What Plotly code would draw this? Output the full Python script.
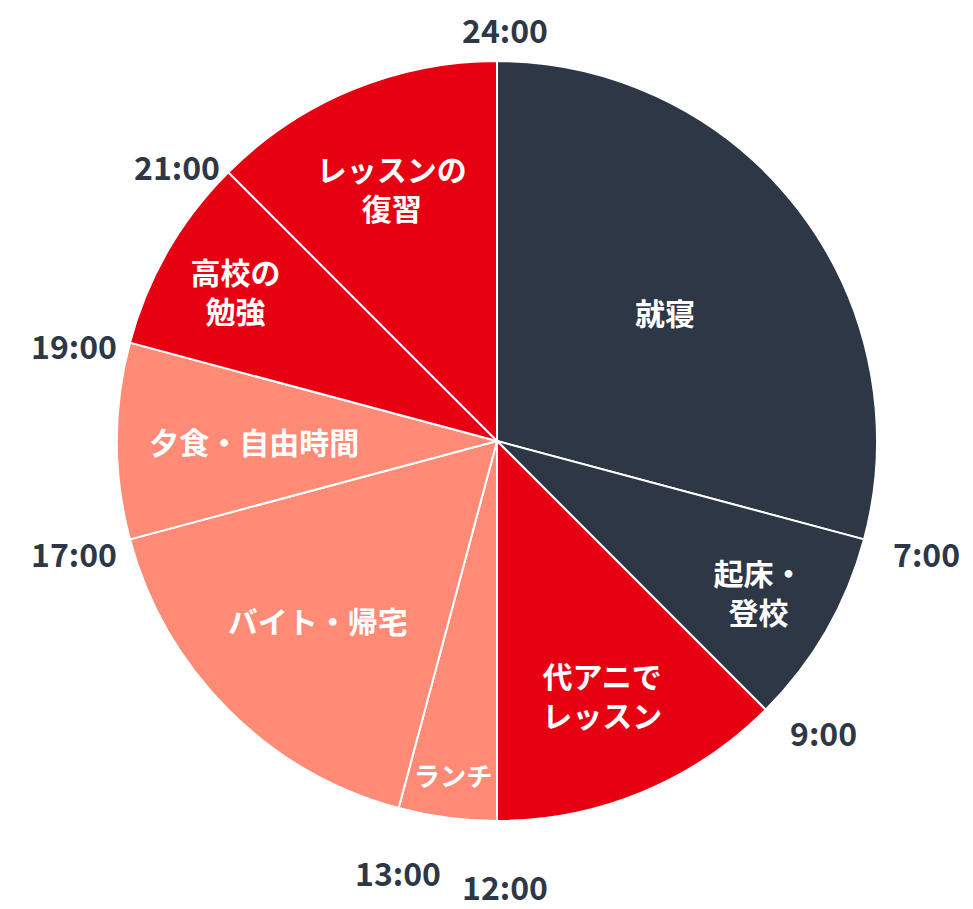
import math
import plotly.graph_objects as go

labels = ["就寝", "起床・<br>登校", "代アニで<br>レッスン", "ランチ", "バイト・帰宅", "夕食・自由時間", "高校の<br>勉強", "レッスンの<br>復習"]
hours = [7, 2, 3, 1, 4, 2, 2, 3]
colors = ["#2d3746", "#2d3746", "#e60012", "#ff8a75", "#ff8a75", "#ff8a75", "#e60012", "#e60012"]
tick_hours = [24, 7, 9, 12, 13, 17, 19, 21]

W, H = 973, 909
cx, cy, R = 497, 441, 380
sx, sy = -8, -8  # correction for plotly's domain placement

fig = go.Figure(go.Pie(
    labels=labels, values=hours, sort=False, direction="clockwise", rotation=0,
    marker=dict(colors=colors, line=dict(color="white", width=2)),
    texttemplate="<b>%{label}</b>", textposition="inside", insidetextorientation="horizontal",
    textfont=dict(family="Noto Sans CJK JP", size=30, color="white"),
    hoverinfo="skip", showlegend=False,
    domain=dict(x=[(cx + sx - R) / W, (cx + sx + R) / W],
                y=[(H - cy - sy - R) / H, (H - cy - sy + R) / H]),
))

for h in tick_hours:
    deg = (h % 24) / 24 * 360
    a = math.radians(deg)
    if deg == 0:
        r, xa, ya = 395, "center", "bottom"
    elif 170 <= deg <= 200:
        r, xa, ya = 412, "center", "top"
    elif deg < 180:
        r, xa, ya = 400, "left", "middle"
    else:
        r, xa, ya = 400, "right", "middle"
    px = cx + r * math.sin(a)
    py = cy - r * math.cos(a)
    fig.add_annotation(x=px / W, y=1 - py / H, xref="paper", yref="paper",
                       xanchor=xa, yanchor=ya,
                       text=f"<b>{h}:00</b>", showarrow=False,
                       font=dict(family="Noto Sans CJK JP", size=32, color="#2d3746"))

fig.update_layout(width=W, height=H, margin=dict(l=0, r=0, t=0, b=0),
                  paper_bgcolor="white", plot_bgcolor="white")
fig.write_html("out.html")
